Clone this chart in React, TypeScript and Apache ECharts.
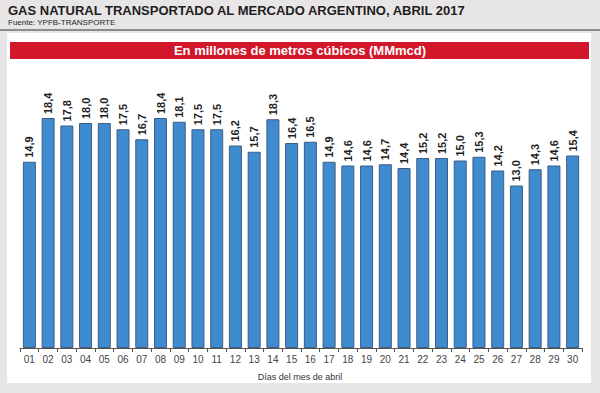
import React, { useEffect, useRef } from "react";
import * as echarts from "echarts";

const days = ["01","02","03","04","05","06","07","08","09","10","11","12","13","14","15","16","17","18","19","20","21","22","23","24","25","26","27","28","29","30"];
const values = [14.9, 18.4, 17.8, 18.0, 18.0, 17.5, 16.7, 18.4, 18.1, 17.5, 17.5, 16.2, 15.7, 18.3, 16.4, 16.5, 14.9, 14.6, 14.6, 14.7, 14.4, 15.2, 15.2, 15.0, 15.3, 14.2, 13.0, 14.3, 14.6, 15.4];
const titleText = "GAS NATURAL TRANSPORTADO AL MERCADO ARGENTINO, ABRIL 2017";
const sourceText = "Fuente: YPFB-TRANSPORTE";
const bannerText = "En millones de metros cúbicos (MMmcd)";
const xAxisTitle = "Días del mes de abril";

export default function App() {
  const ref = useRef<HTMLDivElement>(null);
  useEffect(() => {
    if (!ref.current) return;
    const chart = echarts.init(ref.current, undefined, { renderer: "svg" });
    const font = "'Liberation Sans', Arial, sans-serif";
    chart.setOption({
      animation: false,
      backgroundColor: "#e7e5e5",
      graphic: [
        { type: "rect", shape: { x: 7, y: 33, width: 584, height: 350 }, style: { fill: "#ffffff" }, z: -10 },
        { type: "line", shape: { x1: 0, y1: 30, x2: 600, y2: 30 }, style: { stroke: "#6e6e6e", lineWidth: 1.5 }, z: -5 },
        { type: "rect", shape: { x: 10, y: 42, width: 579, height: 17 }, style: { fill: "#d2172a" }, z: -5 },
        { type: "text", x: 300, y: 50.5, style: { text: bannerText, fill: "#ffffff", font: `bold 13px ${font}`, align: "center", verticalAlign: "middle" } },
        { type: "text", x: 8, y: 10, style: { text: titleText, fill: "#1e1e1e", font: `bold 13px 'Liberation Sans Narrow', ${font}`, align: "left", verticalAlign: "middle" } },
        { type: "text", x: 8, y: 22.5, style: { text: sourceText, fill: "#1e1e1e", font: `8px 'Liberation Sans Narrow', ${font}`, align: "left", verticalAlign: "middle" } },
        { type: "text", x: 300, y: 377, style: { text: xAxisTitle, fill: "#333333", font: `9px 'Liberation Sans Narrow', ${font}`, align: "center", verticalAlign: "middle" } },
      ],
      grid: { left: 20, right: 18, top: 98, bottom: 45 },
      xAxis: {
        type: "category",
        data: days,
        axisLine: { lineStyle: { color: "#555555", width: 1 } },
        axisTick: { show: true, length: 4, lineStyle: { color: "#555555" } },
        axisLabel: { color: "#444444", fontSize: 10, fontFamily: font, margin: 6 },
      },
      yAxis: { type: "value", min: 0, max: 20, show: false, splitLine: { show: false } },
      series: [
        {
          type: "bar",
          data: values,
          barWidth: 13,
          itemStyle: { color: "#3f8bd0", borderColor: "#3d5d84", borderWidth: 1 },
          label: {
            show: true,
            position: "top",
            rotate: 90,
            align: "left",
            verticalAlign: "middle",
            distance: 4,
            color: "#1e1e1e",
            fontSize: 11,
            fontWeight: "bold",
            fontFamily: font,
            formatter: (p: any) => Number(p.value).toFixed(1).replace(".", ","),
          },
        },
      ],
    });
    return () => chart.dispose();
  }, []);
  return <div ref={ref} style={{ position: "fixed", left: 0, top: 0, width: 600, height: 393 }} />;
}
